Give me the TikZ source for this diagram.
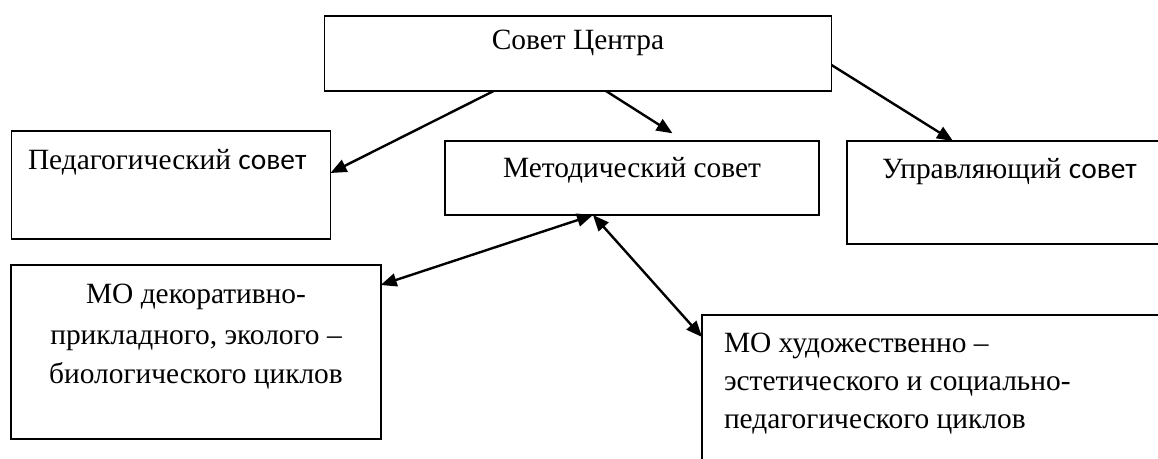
\documentclass[tikz,border=0pt]{standalone}
\usepackage{fontspec}
\setmainfont{Liberation Serif}
\newfontfamily\calfont{Carlito}
\usetikzlibrary{arrows.meta}
\begin{document}
\begin{tikzpicture}[x=1pt,y=-1pt,
  box/.style={draw, line width=1.8pt, inner sep=0pt, outer sep=0pt, anchor=north west},
  lbl/.style={inner sep=0pt, outer sep=0pt, font=\fontsize{29.4}{29.4}\selectfont},
  tip/.tip={Triangle[length=16pt,width=13pt]},
  arr/.style={line width=2.4pt, -tip},
  darr/.style={line width=2.4pt, tip-tip}]
\useasboundingbox (0,0) rectangle (1158,458);
\begin{scope}
\clip (0,0) rectangle (1158,458);
% boxes
\node[box, minimum width=507pt, minimum height=75pt] (top) at (324.5,16) {};
\node[box, minimum width=319pt, minimum height=108pt] (ped) at (11.5,131) {};
\node[box, minimum width=374pt, minimum height=74pt] (met) at (445,141) {};
\node[box, minimum width=400pt, minimum height=103pt] (upr) at (847,141) {};
\node[box, minimum width=370pt, minimum height=174pt] (dec) at (10.7,265) {};
\node[box, minimum width=500pt, minimum height=200pt] (hud) at (702,315) {};
% texts
\node[lbl, anchor=base] (tTop) at (578,49) {Совет Центра};
\node[lbl, anchor=base west] (tPed) at (28,169) {Педагогический {\calfont совет}};
\node[lbl, anchor=base] (tMet) at (632,177) {Методический совет};
\node[lbl, anchor=base west] (tUpr) at (882,178) {Управляющий {\calfont совет}};
\node[lbl, anchor=base] (tDec1) at (196,303) {МО декоративно-};
\node[lbl, anchor=base] (tDec2) at (196,344) {прикладного, эколого –};
\node[lbl, anchor=base] (tDec3) at (196,383) {биологического циклов};
\node[lbl, anchor=base west] (tHud1) at (724,352) {МО художественно –};
\node[lbl, anchor=base west] (tHud2) at (724,390) {эстетического и социально-};
\node[lbl, anchor=base west] (tHud3) at (724,428) {педагогического циклов};
\end{scope}
% connector end points
\coordinate (a1s) at ([xshift=169.2pt]top.south west);
\coordinate (a1e) at ([yshift=-42pt]ped.north east);
\coordinate (a2s) at ([xshift=281.5pt]top.south west);
\coordinate (a2e) at (672.5,133.3);
\coordinate (a3s) at ([yshift=-49pt]top.north east);
\coordinate (a3e) at ([xshift=106pt]upr.north west);
\coordinate (mb) at ([xshift=148pt]met.south west);
\coordinate (decE) at ([yshift=-20pt]dec.north east);
\coordinate (hudW) at ([yshift=-22pt]hud.north west);
% connectors
\draw[arr] (a1s) -- (a1e);
\draw[arr] (a2s) -- (a2e);
\draw[arr] (a3s) -- (a3e);
\draw[darr] (decE) -- (mb);
\draw[darr] (mb) -- (hudW);
\end{tikzpicture}
\end{document}
